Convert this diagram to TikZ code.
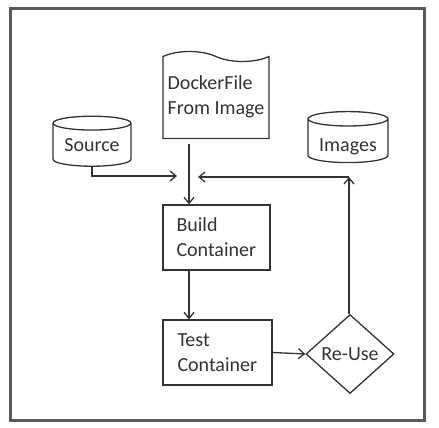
\documentclass[tikz,border=0pt]{standalone}
\usepackage{fontspec}
\setmainfont{Carlito}
\usepackage{xcolor}
\usepackage{tikz}
\usetikzlibrary{arrows.meta}
\usetikzlibrary{positioning}
\usetikzlibrary{shapes}

\definecolor{ink}{HTML}{333333}
\definecolor{framegray}{HTML}{5A5A5A}

\begin{document}
\begin{tikzpicture}[x=1pt,y=-1pt,
        font=\fontsize{20}{25}\selectfont,
        line/.style={draw=ink,line width=1.3pt},
        arr/.style={line,-{Straight Barb[length=6pt,width=10pt]}},
        box/.style={line,text=ink,inner sep=0pt,minimum height=65pt,text width=80pt,align=left},
        store/.style={line,text=ink,cylinder,shape border rotate=90,aspect=0.25,inner sep=0pt},
        docu/.style={line,text=ink,tape,tape bend top=out and in,tape bend bottom=none,tape bend height=10pt,inner sep=0pt,align=left}]
        \useasboundingbox (0,0) rectangle (439,428);
        \draw[framegray,line width=3pt] (10,9) rectangle (424,420);

        \node[docu,minimum width=106pt,minimum height=87pt,text depth=10pt] (docfile) at (216,100) {DockerFile\\From Image};
        \node[store,minimum width=78pt,minimum height=50pt] (source) at (92,145) {Source};
        \node[store,minimum width=80pt,minimum height=51pt,text height=25pt] (images) at (348,141) {Images};

        \node[box,minimum width=107pt] (build) at (216.5,237.5) {Build\\Container};
        \node[box,minimum width=109pt] (test) at (217.5,352.5) {Test\\Container};
        \node[line,text=ink,diamond,aspect=1.11,inner sep=0pt,minimum width=88pt,minimum height=79pt] (reuse) at (350,354) {Re-Use};

        \coordinate (merge) at (189,177);
        \coordinate (srcin) at (177,176);
        \coordinate (imgin) at (198,177);
        \coordinate (jn) at (349,177);

        \draw[arr] (source.south) |- (srcin);
        \draw[arr] (docfile.south -| merge) -- (build.north -| merge);
        \draw[arr] (build.south -| merge) -- (test.north -| merge);
        \draw[arr] (test.east) -- (reuse.west);
        \draw[arr] (reuse.north -| jn) -- (jn);
        \draw[arr] (jn) -- (imgin);
\end{tikzpicture}
\end{document}
